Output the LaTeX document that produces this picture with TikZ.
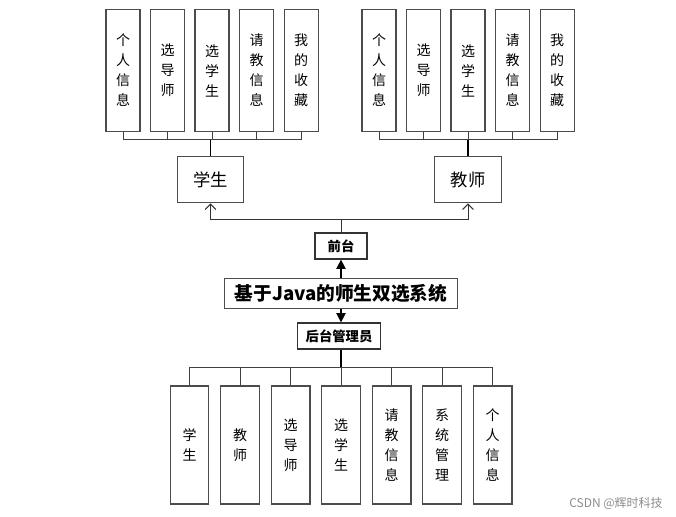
\documentclass[tikz,border=0pt]{standalone}
\usepackage{fontspec}
\usepackage{xcolor}
\usepackage{tikz}
\usetikzlibrary{shapes.geometric, arrows, arrows.meta, positioning}
\newfontfamily\cjk{Noto Sans CJK SC}

\begin{document}
\begin{tikzpicture}[x=0.75pt, y=-0.75pt, node distance=7pt]
        \tikzstyle{leaf} = [rectangle, draw=black!70, line width=0.9pt, inner sep=0pt, align=center, minimum width=25.5pt, minimum height=92pt, font=\cjk\fontsize{10.5pt}{15pt}\selectfont]
        \tikzstyle{lowleaf} = [leaf, minimum width=29pt, minimum height=88.5pt]
        \tikzstyle{role} = [rectangle, draw=black!70, line width=0.9pt, minimum width=50pt, minimum height=35pt, font=\cjk\fontsize{13pt}{15pt}\selectfont]
        \tikzstyle{part} = [rectangle, draw=black!80, line width=0.9pt, inner sep=0pt, minimum height=19.5pt, font=\cjk\bfseries\fontsize{10pt}{12pt}\selectfont]
        \tikzstyle{title} = [rectangle, draw=black!70, line width=0.9pt, minimum width=175pt, minimum height=23pt, inner sep=0pt, font=\cjk\bfseries\fontsize{14pt}{16pt}\selectfont]
        \tikzstyle{bus} = [draw=black!75, line width=0.7pt]
        \tikzstyle{trunk} = [draw=black, line width=1.2pt]
        \tikzstyle{open} = [draw=black!80, line width=0.7pt, -{Straight Barb[length=4pt, width=8pt]}]
        \tikzstyle{solid} = [draw=black, line width=1pt, -{Triangle[length=7pt, width=7pt]}]

        \useasboundingbox (0,0) rectangle (676,517);

        % front end
        \node [role] (stu) at (210.5,179.5) {学生};
        \node [role] (tea) at (468,179.5) {教师};
        \node [part, minimum width=39pt] (front) at (341,246) {前台};
        \node [title] (sys) at (341,293.5) {基于Java的师生双选系统};
        \node [part, minimum width=62pt] (admin) at (339,336) {后台管理员};

        \node [leaf] (s1) at (123,70.5) {个\\人\\信\\息};
        \node [leaf, right=of s1] (s2) {选\\导\\师};
        \node [leaf, right=of s2] (s3) {选\\学\\生};
        \node [leaf, right=of s3] (s4) {请\\教\\信\\息};
        \node [leaf, right=of s4] (s5) {我\\的\\收\\藏};

        \node [leaf] (t1) at (379,70.5) {个\\人\\信\\息};
        \node [leaf, right=of t1] (t2) {选\\导\\师};
        \node [leaf, right=of t2] (t3) {选\\学\\生};
        \node [leaf, right=of t3] (t4) {请\\教\\信\\息};
        \node [leaf, right=of t4] (t5) {我\\的\\收\\藏};

        % back end
        \begin{scope}[node distance=8pt]
        \node [lowleaf] (a1) at (189.5,445) {学\\生};
        \node [lowleaf, right=of a1] (a2) {教\\师};
        \node [lowleaf, right=of a2] (a3) {选\\导\\师};
        \node [lowleaf, right=of a3] (a4) {选\\学\\生};
        \node [lowleaf, right=of a4] (a5) {请\\教\\信\\息};
        \node [lowleaf, right=of a5] (a6) {系\\统\\管\\理};
        \node [lowleaf, right=of a6] (a7) {个\\人\\信\\息};
        \end{scope}

        \coordinate (sbus) at ([yshift=12pt]stu.north);
        \coordinate (tbus) at ([yshift=12pt]tea.north);
        \foreach \i in {1,...,5} {
            \path [bus] (s\i.south) |- (sbus);
            \path [bus] (t\i.south) |- (tbus);
        }
        \path [trunk] (sbus) -- (stu.north);
        \path [trunk] (tbus) -- (tea.north);

        \path [open] (front.north) -- ++(0,-13) -| (stu.south);
        \path [open] (front.north) -- ++(0,-13) -| (tea.south);
        \path [solid] (sys.north) -- (front.south);
        \path [solid] (sys.south) -- (sys.south |- admin.north);

        \path [trunk] (sys.south |- admin.south) -- ++(0,18) coordinate (abus);
        \foreach \i in {1,...,7}
            \path [bus] (abus) -| (a\i.north);

        \node [text=black!45, font=\cjk\fontsize{9pt}{10pt}\selectfont] (mark) at (616,503) {CSDN @辉时科技};
    \end{tikzpicture}
\end{document}
